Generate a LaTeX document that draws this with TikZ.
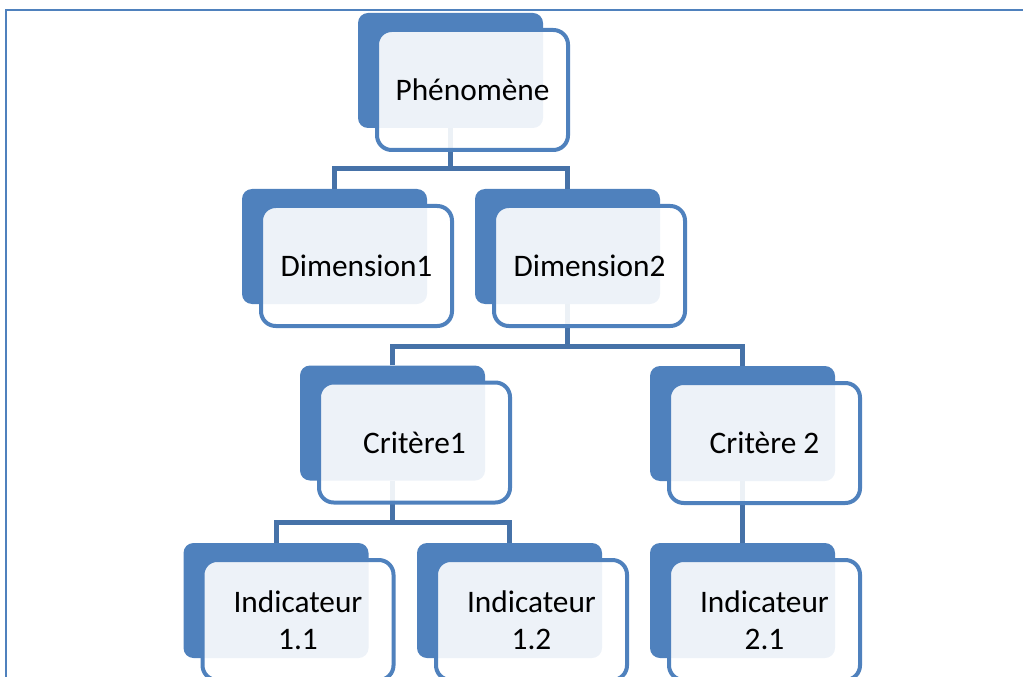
\documentclass[tikz,border=0pt]{standalone}
\usepackage{fontspec}
\setmainfont{Carlito}
\usetikzlibrary{calc}
\definecolor{boxblue}{HTML}{4F81BD}
\definecolor{linkblue}{HTML}{4672A8}
\tikzset{
  backbox/.style={fill=boxblue, draw=none, rounded corners=7.5pt,
    minimum width=138.75pt, minimum height=86.25pt},
  frontbox/.style={draw=boxblue, line width=3pt, fill=white, fill opacity=.9,
    text opacity=1, rounded corners=11pt, minimum width=143.25pt,
    minimum height=90pt, align=center, inner sep=0pt,
    font=\fontsize{23.5}{28}\selectfont},
  link/.style={draw=linkblue, line width=3.75pt}
}
\begin{document}
\begin{tikzpicture}[x=0.75pt,y=-0.75pt]
  \useasboundingbox (0,0) rectangle (1023,677);
  \draw [boxblue,line width=1.5pt] (6,677) -- (6,10) -- (1023,10);
  % back boxes
  \node [backbox] (pheno-b) at (450.5,70.5) {};
  \node [backbox] (dimA-b) at (334.5,246.5) {};
  \node [backbox] (dimB-b) at (567.5,246.5) {};
  \node [backbox] (critA-b) at (392.5,423) {};
  \node [backbox] (critB-b) at (742.5,423.5) {};
  \node [backbox] (indAA-b) at (276,600.5) {};
  \node [backbox] (indAB-b) at (509.5,600.5) {};
  \node [backbox] (indBA-b) at (742.5,600.5) {};
  % connectors
  \coordinate (barP) at ($(pheno-b.south)+(0,40)$);
  \coordinate (barD) at ($(dimB-b.south)+(0,42)$);
  \coordinate (barC) at ($(critA-b.south)+(0,42)$);
  \draw [link] (pheno-b.south) -- (barP);
  \draw [link] (dimA-b.north) |- (barP) -| (dimB-b.north);
  \draw [link] (dimB-b.south) -- (barD);
  \draw [link] (critA-b.north) |- (barD) -| (critB-b.north);
  \draw [link] (critA-b.south) -- (barC);
  \draw [link] (indAA-b.north) |- (barC) -| (indAB-b.north);
  \draw [link] (critB-b.south) -- (indBA-b.north);
  % front boxes
  \node [frontbox] (pheno) at ($(pheno-b)+(22,19.5)$) {Phénomène};
  \node [frontbox] (dimA) at ($(dimA-b)+(22,19.5)$) {Dimension1};
  \node [frontbox] (dimB) at ($(dimB-b)+(22,19.5)$) {Dimension2};
  \node [frontbox] (critA) at ($(critA-b)+(22,19.5)$) {Critère1};
  \node [frontbox] (critB) at ($(critB-b)+(22,19.5)$) {Critère 2};
  \node [frontbox] (indAA) at ($(indAA-b)+(22,19.5)$) {Indicateur\\1.1};
  \node [frontbox] (indAB) at ($(indAB-b)+(22,19.5)$) {Indicateur\\1.2};
  \node [frontbox] (indBA) at ($(indBA-b)+(22,19.5)$) {Indicateur\\2.1};
\end{tikzpicture}
\end{document}
